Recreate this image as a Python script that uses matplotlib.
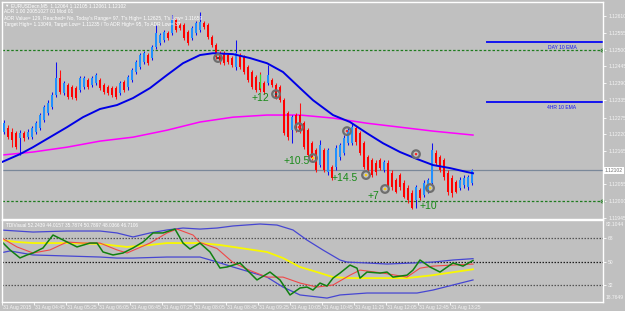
import matplotlib
matplotlib.use("Agg")
import matplotlib.pyplot as plt

plt.rcParams['font.family'] = ['Liberation Sans', 'DejaVu Sans']

BG = '#C0C0C0'

# ---- M5 candles (bar index 0 = 31 Aug 04:05) ----
opens = [1.12228, 1.12241, 1.12228, 1.12224, 1.12208, 1.12224, 1.12211, 1.12211, 1.12228, 1.12241,
         1.12267, 1.12290, 1.12310, 1.12350, 1.12406, 1.12356, 1.12383, 1.12376, 1.12373, 1.12366,
         1.12376, 1.12399, 1.12383, 1.12389, 1.12399, 1.12383, 1.12376, 1.12373, 1.12373, 1.12356,
         1.12393, 1.12376, 1.12399, 1.12426, 1.12442, 1.12459, 1.12482, 1.12472, 1.12508, 1.12521,
         1.12531, 1.12554, 1.12554, 1.12597, 1.12581, 1.12581, 1.12558, 1.12538, 1.12554, 1.12564,
         1.12587, 1.12581, 1.12541, 1.12515, 1.12488, 1.12488, 1.12482, 1.12472, 1.12442, 1.12482,
         1.12475, 1.12442, 1.12426, 1.12409, 1.12393, 1.12389, 1.12389, 1.12399, 1.12383, 1.12376,
         1.12333, 1.12290, 1.12234, 1.12284, 1.12284, 1.12257, 1.12234, 1.12191, 1.12168, 1.12119,
         1.12168, 1.12096, 1.12112, 1.12112, 1.12145, 1.12158, 1.12191, 1.12191, 1.12241, 1.12224,
         1.12191, 1.12145, 1.12135, 1.12125, 1.12135, 1.12102, 1.12125, 1.12092, 1.12069, 1.12086,
         1.12059, 1.12043, 1.12026, 1.12003, 1.12036, 1.12020, 1.12036, 1.12059, 1.12158, 1.12145,
         1.12135, 1.12092, 1.12076, 1.12063, 1.12043, 1.12053, 1.12046, 1.12059]
highs = [1.12267, 1.12251, 1.12241, 1.12231, 1.12234, 1.12231, 1.12238, 1.12248, 1.12264, 1.12290,
         1.12317, 1.12333, 1.12360, 1.12459, 1.12432, 1.12396, 1.12389, 1.12383, 1.12380, 1.12413,
         1.12413, 1.12406, 1.12413, 1.12422, 1.12406, 1.12389, 1.12383, 1.12380, 1.12380, 1.12396,
         1.12399, 1.12416, 1.12439, 1.12465, 1.12488, 1.12495, 1.12488, 1.12515, 1.12581, 1.12554,
         1.12564, 1.12561, 1.12614, 1.12604, 1.12587, 1.12587, 1.12564, 1.12578, 1.12594, 1.12624,
         1.12594, 1.12587, 1.12548, 1.12521, 1.12495, 1.12495, 1.12488, 1.12479, 1.12531, 1.12488,
         1.12482, 1.12449, 1.12432, 1.12416, 1.12426, 1.12396, 1.12449, 1.12406, 1.12389, 1.12383,
         1.12340, 1.12297, 1.12284, 1.12290, 1.12323, 1.12264, 1.12241, 1.12198, 1.12175, 1.12201,
         1.12175, 1.12175, 1.12119, 1.12185, 1.12191, 1.12218, 1.12244, 1.12257, 1.12248, 1.12231,
         1.12198, 1.12152, 1.12142, 1.12135, 1.12142, 1.12135, 1.12135, 1.12102, 1.12076, 1.12092,
         1.12069, 1.12053, 1.12036, 1.12053, 1.12043, 1.12069, 1.12076, 1.12191, 1.12168, 1.12152,
         1.12142, 1.12102, 1.12086, 1.12069, 1.12079, 1.12086, 1.12086, 1.12106]
lows = [1.12221, 1.12205, 1.12178, 1.12172, 1.12152, 1.12198, 1.12205, 1.12205, 1.12221, 1.12234,
        1.12261, 1.12284, 1.12304, 1.12343, 1.12353, 1.12350, 1.12337, 1.12337, 1.12333, 1.12360,
        1.12370, 1.12370, 1.12376, 1.12383, 1.12366, 1.12353, 1.12350, 1.12343, 1.12337, 1.12350,
        1.12360, 1.12366, 1.12393, 1.12419, 1.12436, 1.12452, 1.12449, 1.12465, 1.12502, 1.12515,
        1.12525, 1.12531, 1.12548, 1.12558, 1.12564, 1.12531, 1.12515, 1.12531, 1.12548, 1.12558,
        1.12568, 1.12535, 1.12508, 1.12469, 1.12452, 1.12449, 1.12452, 1.12442, 1.12432, 1.12436,
        1.12419, 1.12393, 1.12370, 1.12360, 1.12360, 1.12353, 1.12383, 1.12376, 1.12337, 1.12327,
        1.12218, 1.12201, 1.12191, 1.12228, 1.12224, 1.12172, 1.12145, 1.12135, 1.12096, 1.12112,
        1.12096, 1.12086, 1.12069, 1.12102, 1.12135, 1.12152, 1.12185, 1.12185, 1.12185, 1.12152,
        1.12106, 1.12096, 1.12079, 1.12086, 1.12102, 1.12096, 1.12036, 1.12036, 1.12026, 1.12036,
        1.12010, 1.11993, 1.11974, 1.11977, 1.12003, 1.12013, 1.12026, 1.12053, 1.12119, 1.12096,
        1.12069, 1.12020, 1.12013, 1.12026, 1.12036, 1.12043, 1.12036, 1.12053]
closes = [1.12257, 1.12211, 1.12201, 1.12178, 1.12224, 1.12208, 1.12228, 1.12241, 1.12257, 1.12284,
          1.12310, 1.12323, 1.12350, 1.12406, 1.12360, 1.12389, 1.12343, 1.12343, 1.12340, 1.12406,
          1.12406, 1.12376, 1.12406, 1.12416, 1.12373, 1.12360, 1.12356, 1.12350, 1.12343, 1.12389,
          1.12366, 1.12409, 1.12432, 1.12459, 1.12482, 1.12488, 1.12455, 1.12508, 1.12554, 1.12548,
          1.12558, 1.12538, 1.12597, 1.12564, 1.12571, 1.12538, 1.12521, 1.12571, 1.12587, 1.12591,
          1.12574, 1.12541, 1.12515, 1.12475, 1.12459, 1.12455, 1.12459, 1.12449, 1.12488, 1.12442,
          1.12426, 1.12399, 1.12376, 1.12366, 1.12366, 1.12360, 1.12416, 1.12383, 1.12343, 1.12333,
          1.12224, 1.12211, 1.12277, 1.12234, 1.12234, 1.12178, 1.12152, 1.12142, 1.12102, 1.12185,
          1.12102, 1.12168, 1.12076, 1.12175, 1.12185, 1.12208, 1.12234, 1.12244, 1.12195, 1.12158,
          1.12112, 1.12102, 1.12086, 1.12096, 1.12109, 1.12129, 1.12046, 1.12046, 1.12030, 1.12046,
          1.12013, 1.12003, 1.11977, 1.12046, 1.12010, 1.12059, 1.12069, 1.12168, 1.12125, 1.12102,
          1.12079, 1.12030, 1.12026, 1.12030, 1.12069, 1.12076, 1.12079, 1.12102]

# moving averages (bar index, price)
ema_x = [-0.5, 4, 7.25, 11.5, 15.75, 19.75, 24, 28.25, 32.25, 36.5, 40.75, 44.75, 49, 52.25, 57.25,
         61.5, 65.75, 69.75, 74, 77.25, 82.25, 86.5, 90.75, 94.75, 99, 103.25, 107.25, 111.5, 115.75, 117.25]
ema_y = [1.12129, 1.12155, 1.12178, 1.12211, 1.12244, 1.12277, 1.12304, 1.12317, 1.12340, 1.12373,
         1.12416, 1.12455, 1.12482, 1.12488, 1.12485, 1.12472, 1.12455, 1.12426, 1.12373, 1.12333,
         1.12284, 1.12261, 1.12224, 1.12191, 1.12162, 1.12139, 1.12119, 1.12109, 1.12096, 1.12092]
ma_x = [-0.5, 7.25, 15.75, 24, 32.25, 40.75, 49, 57.25, 65.75, 69.75, 74, 82.25, 90.75, 99, 107.25, 117.25]
ma_y = [1.12152, 1.12162, 1.12178, 1.12198, 1.12211, 1.12234, 1.12261, 1.12277, 1.12284, 1.12284,
        1.12284, 1.12274, 1.12257, 1.12244, 1.12231, 1.12218]

day_ema = 1.12525
h4_ema = 1.12327
green_levels = [1.12500, 1.12000]
last_price = 1.12102
price_ticks = [1.12610, 1.12555, 1.12500, 1.12445, 1.12390, 1.12335, 1.12275,
               1.12220, 1.12165, 1.12055, 1.12000, 1.11945]

sig_x = [53.5, 68, 73.75, 77.25, 85.75, 90.5, 95.25, 103, 106.5]
sig_y = [1.12472, 1.12353, 1.12244, 1.12142, 1.12231, 1.12086, 1.12040, 1.12155, 1.12043]
sig_dot = ['#404040', '#404040', '#FF2020', '#FFD000', '#FF2020', '#FFD000', '#FFD000', '#FF2020', '#FFD000']

pip_text = ['+12', '+10.5', '+14.5', '+7', '+10']
pip_x = [64, 73.25, 85.25, 92.25, 106]
pip_y = [1.12340, 1.12132, 1.12076, 1.12017, 1.11984]

# ---- TDI ----
up_x = [-1, 7.25, 15.75, 24, 28.25, 32.25, 36.5, 40.75, 44.75, 49, 53.25, 57.25, 64, 68.25, 72.25,
        75.75, 79.75, 84, 85.75, 90.75, 95.75, 102.25, 107.25, 112.25, 117.25]
up_y = [74.4, 72.8, 73.6, 73.6, 72.1, 69.0, 72.1, 74.4, 75.9, 75.1, 75.9, 77.5, 79.0, 78.2, 74.4,
        66.6, 58.9, 51.2, 49.6, 48.9, 48.1, 48.9, 49.6, 51.2, 52.24]
lo_x = [-1, 1.5, 7.25, 15.75, 24, 28.25, 32.25, 40.75, 49, 53.25, 57.25, 61.5, 65.75, 69.75, 74,
        80.75, 84, 90.75, 99, 103.25, 107.25, 112.25, 117.25]
lo_y = [56.6, 58.2, 55.1, 54.3, 53.5, 52.7, 52.7, 53.5, 53.5, 49.7, 45.8, 41.9, 38.0, 30.3, 24.2,
        21.8, 24.2, 25.7, 25.7, 25.7, 28.0, 31.9, 35.79]
base_x = [-1, 3.25, 7.25, 15.75, 24, 30.75, 36.5, 40.75, 44.75, 49, 54, 57.25, 65.75, 69.75, 74,
          78.25, 82.25, 86.5, 94.75, 100.75, 107.25, 117.25]
base_y = [66.7, 65.1, 64.3, 64.3, 63.6, 61.3, 62.8, 64.3, 64.3, 64.3, 62.8, 61.3, 57.4, 52.7, 45.8,
          41.9, 38.0, 37.2, 37.2, 37.2, 39.5, 44.02]
sig_line_x = [-1, 3.25, 7.25, 11.5, 15.75, 19.75, 24, 28.25, 30.75, 36.5, 40.75, 43.25, 47.25, 49,
              53.25, 57.25, 61.5, 65.75, 69.75, 74, 78.25, 82.25, 86.5, 89, 94.75, 100.75, 104,
              107.25, 112.25, 117.25]
sig_line_y = [69.0, 61.3, 56.6, 59.0, 65.1, 64.3, 64.3, 59.0, 56.6, 64.3, 72.1, 75.1, 70.5, 64.7,
              60.1, 49.3, 43.1, 38.0, 38.0, 33.4, 30.3, 31.9, 39.5, 43.4, 41.1, 38.0, 44.9,
              46.5, 47.3, 48.04]
rsi_x = [-1, 1.5, 4, 5.75, 7.25, 9.75, 12.25, 14.75, 18.25, 21.5, 23.25, 24.75, 27.25, 29.75, 32.25,
         34.75, 37.25, 39.75, 42.75, 44.75, 46.5, 49, 51.5, 54, 55.75, 59, 61.5, 63.25, 66.5, 69,
         71.5, 74, 75.75, 77.25, 79, 80.75, 82.25, 84, 86.5, 88.25, 89, 90.75, 94, 95.75, 97.25,
         100.75, 102.25, 104, 106.5, 109, 112.25, 114.75, 117.25]
rsi_y = [66.7, 59.0, 52.8, 55.1, 56.6, 60.5, 70.5, 66.7, 61.3, 64.3, 64.3, 57.4, 55.1, 56.6, 60.5,
         65.1, 72.1, 72.1, 75.1, 64.3, 59.7, 64.3, 57.4, 45.0, 45.8, 48.9, 41.2, 35.8, 41.9, 35.8,
         24.2, 29.6, 30.3, 28.0, 33.4, 31.1, 37.2, 41.1, 47.3, 44.9, 37.2, 41.9, 41.1, 41.9, 38.0,
         39.5, 43.4, 51.2, 45.8, 41.9, 48.9, 46.5, 50.79]
tdi_levels = [68, 50, 32]
tdi_min, tdi_max = 18.7649, 82.1044

time_labels = ['31 Aug 2015', '31 Aug 04:45', '31 Aug 05:25', '31 Aug 06:05', '31 Aug 06:45',
               '31 Aug 07:25', '31 Aug 08:05', '31 Aug 08:45', '31 Aug 09:25', '31 Aug 10:05',
               '31 Aug 10:45', '31 Aug 11:25', '31 Aug 12:05', '31 Aug 12:45', '31 Aug 13:25']

header = ['EURUSDecn,M5  1.12064 1.12105 1.12061 1.12102',
          'ADR 1.00 20051027 01 Mod 01',
          "ADR Value= 129, Reached= No, Today's Range= 97, T's High= 1.12625, T's Low= 1.11659",
          'Target High= 1.13049, Target Low= 1.11235 / To ADR High= 95, To ADR Low= 37']
tdi_header = 'TDIVisual 52.2439 44.0157 35.7874 50.7897 48.0366 46.7106'

W, H = 625, 311
fig = plt.figure(figsize=(W / 100, H / 100), dpi=100, facecolor=BG)
ax = fig.add_axes([2 / W, 1 - 219 / H, 601 / W, 217 / H])
ax2 = fig.add_axes([2 / W, 1 - 302 / H, 601 / W, 82 / H])

FS = 3.6
for a in (ax, ax2):
    a.set_facecolor(BG)
    for s in a.spines.values():
        s.set_color('white')
        s.set_linewidth(1)
    a.set_xlim(-0.5, 149.75)
    a.yaxis.tick_right()
    a.tick_params(axis='y', colors='white', labelcolor='#F4F4F4', labelsize=FS,
                  length=2.5, width=0.6, pad=1.2)

# main price panel
ax.set_ylim(1.11941, 1.12657)
ax.set_xticks([])
ax.set_yticks(price_ticks)
ax.set_yticklabels(['%.5f' % p for p in price_ticks])

for lv in green_levels:
    ax.axhline(lv, color='#1E7B1E', lw=0.9, ls=(0, (2, 1.5)))
    ax.plot([149.6], [lv], marker='o', ms=2.2, mfc='none', mec='#1E7B1E', mew=0.6, clip_on=False)
ax.axhline(last_price, color='#7A8899', lw=0.9)

xs = list(range(len(opens)))
bull = [c >= o for o, c in zip(opens, closes)]
wick_c = ['#1010F0' if b else '#FF1010' for b in bull]
body_c = ['#2090FF' if b else '#FF0000' for b in bull]
ax.vlines(xs, lows, highs, colors=wick_c, lw=0.75, zorder=3)
ax.bar(xs, [max(abs(c - o), 0.000015) for o, c in zip(opens, closes)],
       bottom=[min(o, c) for o, c in zip(opens, closes)], width=0.72, color=body_c, lw=0, zorder=4)

ax.plot(ma_x, ma_y, color='#FF00FF', lw=1.1, zorder=2)
ax.plot(ema_x, ema_y, color='#0000E6', lw=1.4, zorder=5)

ax.plot([120.75, 149.75], [day_ema, day_ema], color='#1414F0', lw=1.4)
ax.plot([120.75, 149.75], [h4_ema, h4_ema], color='#1414F0', lw=1.4)
ax.text(139.5, day_ema - 0.00017, 'DAY 10 EMA', color='#1414F0', fontsize=FS, ha='center', va='center')
ax.text(139.5, h4_ema - 0.00017, '4HR 10 EMA', color='#1414F0', fontsize=FS, ha='center', va='center')

ax.vlines([64], [1.12373], [1.12419], colors='#30E030', lw=0.9, zorder=6)
ax.scatter(sig_x, sig_y, s=30, facecolors='none', edgecolors='#6E6E6E', linewidths=1.6, zorder=7)
ax.scatter(sig_x, sig_y, s=3, c=sig_dot, lw=0, zorder=8)
for t, x, y in zip(pip_text, pip_x, pip_y):
    ax.text(x, y, t, color='#188A18', fontsize=7.5, ha='center', va='center', zorder=9)

ax.text(1.003, last_price, '%.5f' % last_price, transform=ax.get_yaxis_transform(),
        fontsize=FS, color='#707070', va='center', ha='left',
        bbox=dict(boxstyle='square,pad=0.2', fc='white', ec='none'))

fig.text(4 / W, 1 - 5.5 / H, '▼', fontsize=3.2, color='white', va='center')
for k, line in enumerate(header):
    fig.text((11 if k == 0 else 4) / W, 1 - (5.5 + 6.3 * k) / H, line,
             fontsize=3.5, color='white', va='center')

# TDI panel
ax2.set_ylim(tdi_min, tdi_max)
ax2.set_yticks(tdi_levels)
ax2.set_yticklabels([str(v) for v in tdi_levels])
ax2.text(1.004, 0.97, '%.4f' % tdi_max, transform=ax2.transAxes, fontsize=FS,
         color='#F4F4F4', va='top', ha='left')
ax2.text(1.004, 0.03, '%.4f' % tdi_min, transform=ax2.transAxes, fontsize=FS,
         color='#F4F4F4', va='bottom', ha='left')
for lv in tdi_levels:
    ax2.axhline(lv, color='#202020' if lv == 50 else '#555555', lw=0.9, ls=(0, (1.2, 1.2)))
ax2.plot(up_x, up_y, color='#4646D2', lw=0.9)
ax2.plot(lo_x, lo_y, color='#4646D2', lw=0.9)
ax2.plot(base_x, base_y, color='#F8F800', lw=1.3)
ax2.plot(sig_line_x, sig_line_y, color='#F04848', lw=0.8)
ax2.plot(rsi_x, rsi_y, color='#108010', lw=1.1)
ax2.text(4 / 601, 0.96, tdi_header, transform=ax2.transAxes, fontsize=3.4,
         color='white', va='top', ha='left')

ticks = [8 * k - 0.5 for k in range(len(time_labels))]
ax2.set_xticks(ticks)
ax2.set_xticklabels([])
ax2.tick_params(axis='x', colors='white', length=2, width=0.6, direction='out')
for x, lab in zip(ticks, time_labels):
    ax2.text(x + 0.3, -0.04, lab, transform=ax2.get_xaxis_transform(), fontsize=FS,
             color='#F4F4F4', ha='left', va='top')

fig.savefig('out.png', dpi=100, facecolor=BG)
